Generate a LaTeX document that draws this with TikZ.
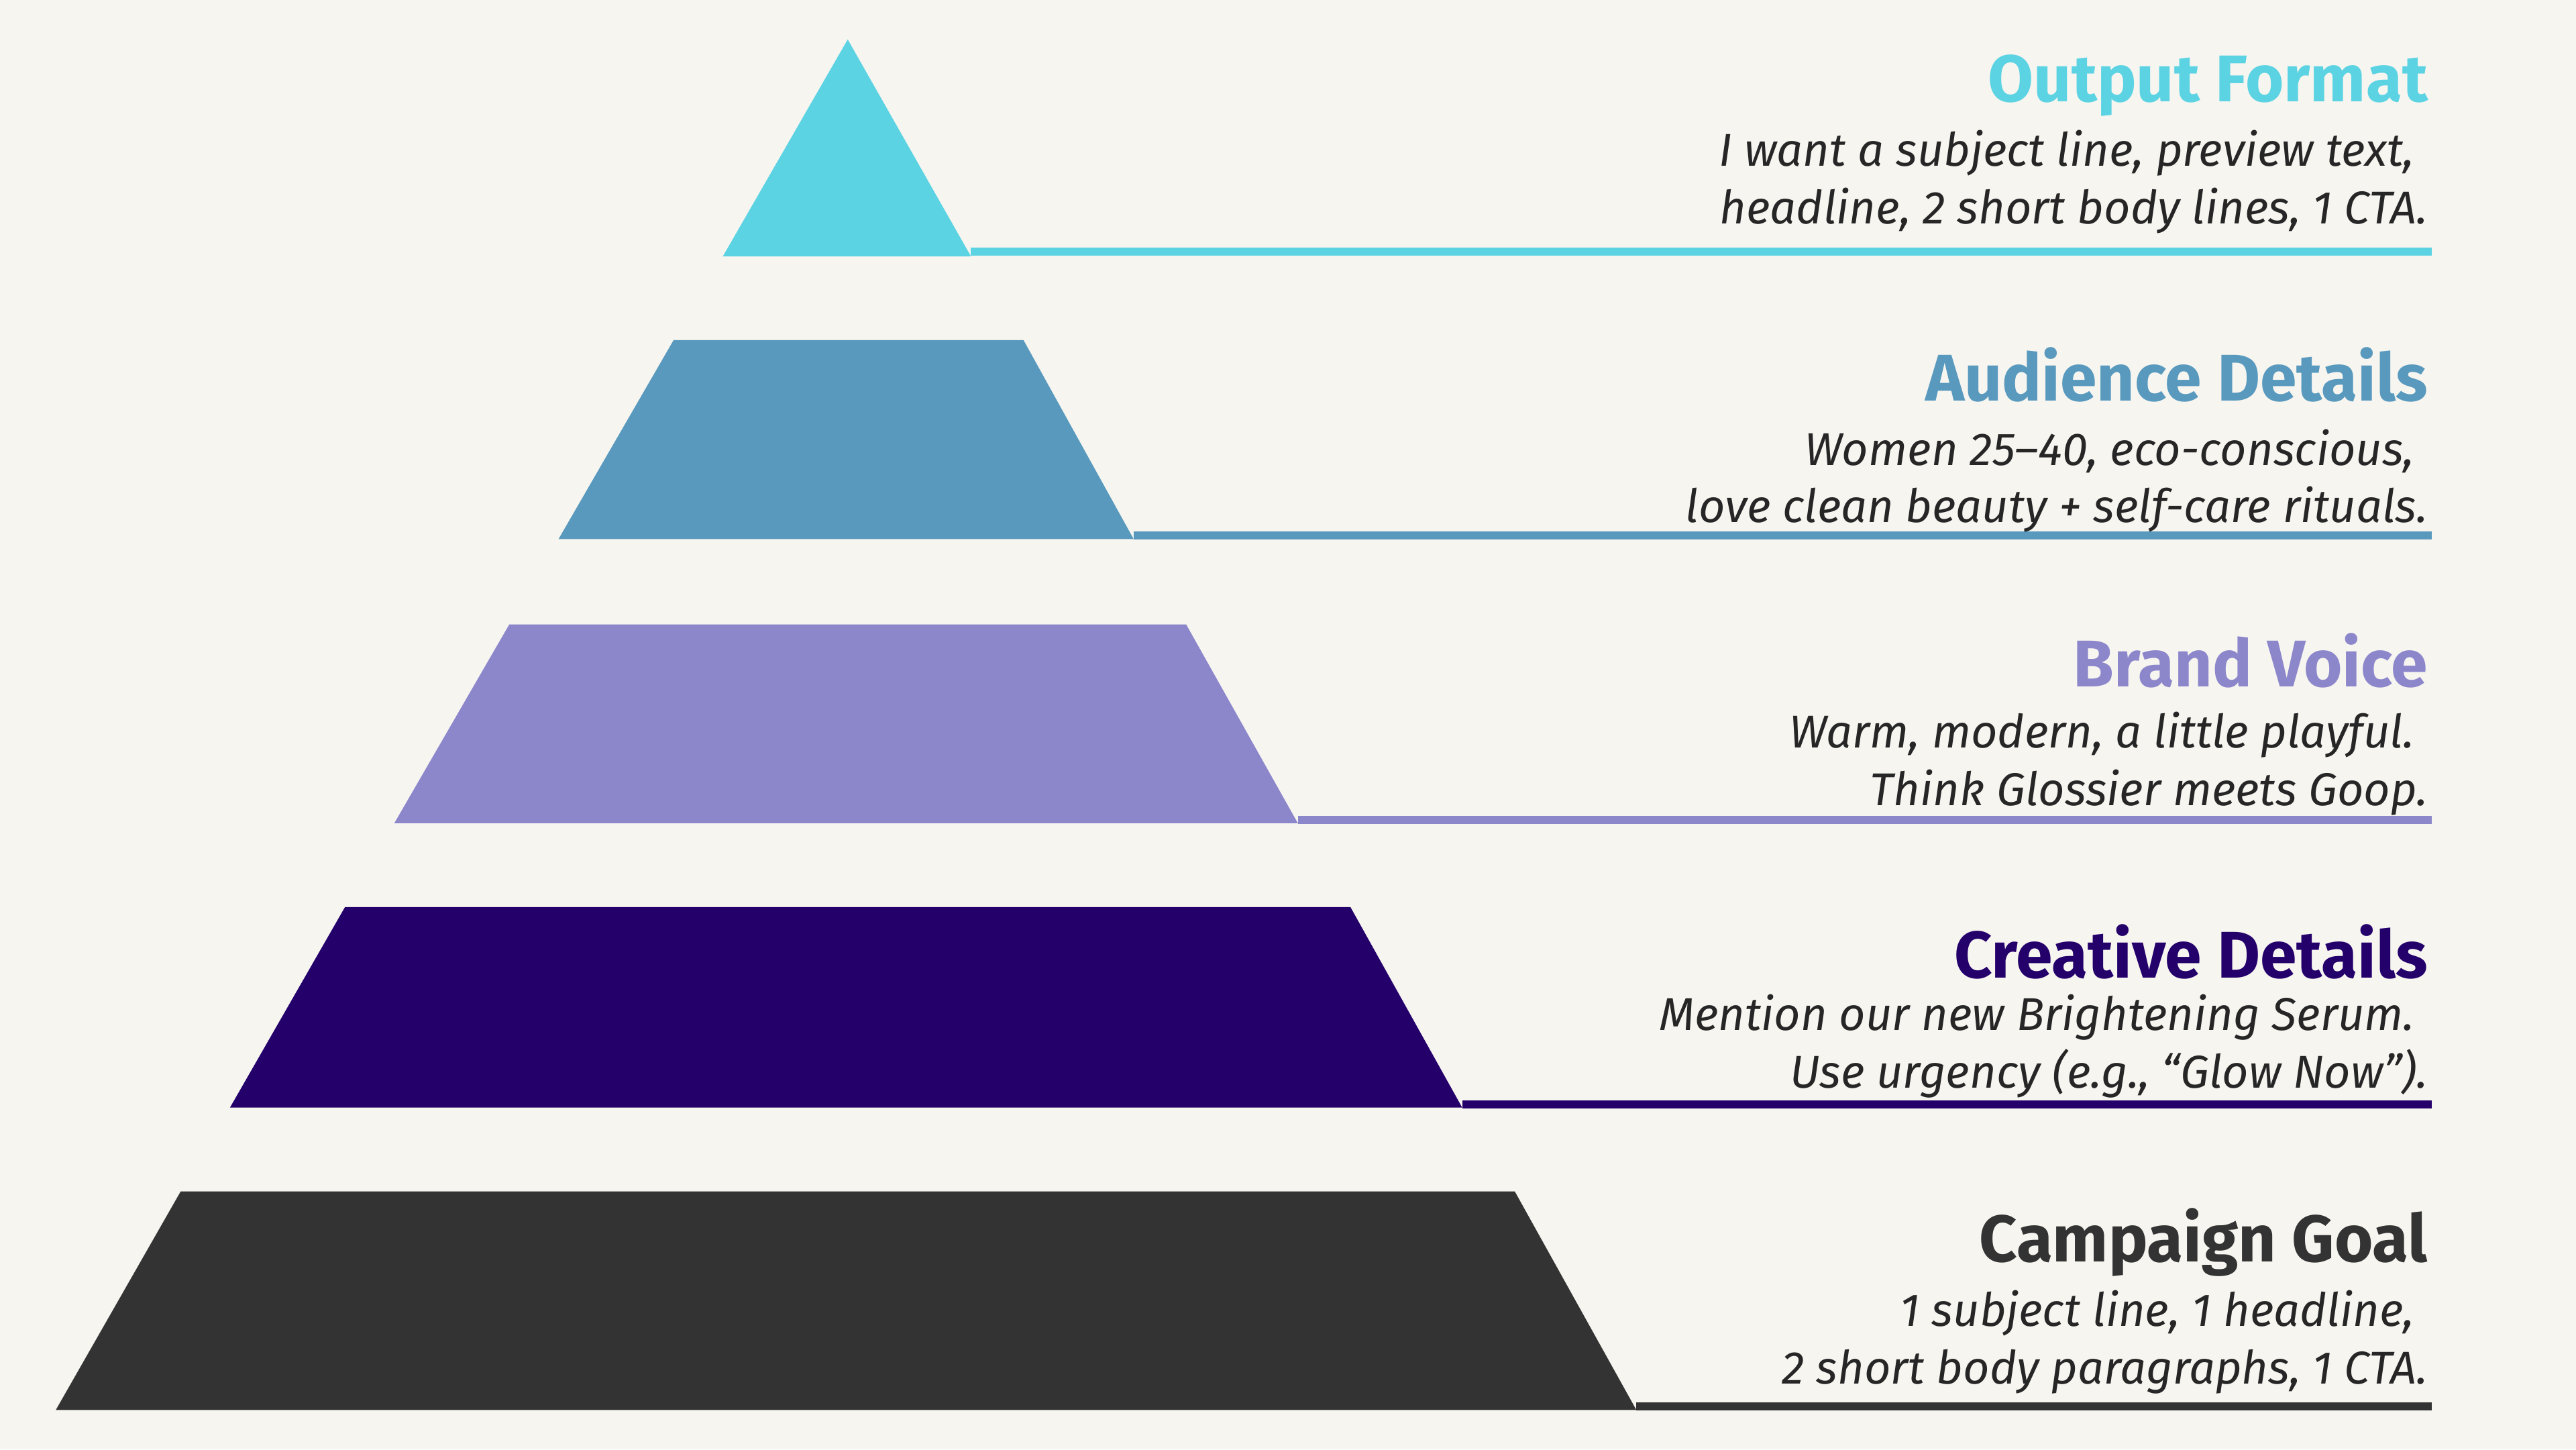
\documentclass[tikz,border=0pt]{standalone}
\usepackage{fontspec}
\setmainfont{Fira Sans}
\definecolor{bg}{HTML}{F6F5F0}
\definecolor{cA}{HTML}{5BD3E3}
\definecolor{cB}{HTML}{5899BD}
\definecolor{cC}{HTML}{8C86CB}
\definecolor{cD}{HTML}{24006B}
\definecolor{cE}{HTML}{333333}
\begin{document}
\begin{tikzpicture}[x=0.02449cm,y=-0.02449cm,
  ttl/.style={anchor=base east,inner sep=0,font=\fontsize{28}{32}\selectfont\bfseries},
  bdy/.style={anchor=base east,inner sep=0,font=\fontsize{19.5}{24}\selectfont\itshape,text=black!85},
  bar/.style={line width=0.12cm}]
\fill[bg] (0,0) rectangle (1568,882);
\useasboundingbox (0,0) rectangle (1568,882);
\fill[cA] (516,24) -- (591,156) -- (440,156) -- cycle;
\draw[bar,cA] (591,153) -- (1480,153);
\fill[cB] (410,207) -- (623,207) -- (690,328) -- (340,328) -- cycle;
\draw[bar,cB] (690,326) -- (1480,326);
\fill[cC] (310,380) -- (722,380) -- (790,501) -- (240,501) -- cycle;
\draw[bar,cC] (790,499) -- (1480,499);
\fill[cD] (210,552) -- (822,552) -- (890,674) -- (140,674) -- cycle;
\draw[bar,cD] (890,672) -- (1480,672);
\fill[cE] (110,725) -- (922,725) -- (996,858) -- (34,858) -- cycle;
\draw[bar,cE] (996,856) -- (1480,856);
\node[ttl,text=cA] (t1) at (1478,62) {Output Format};
\node[bdy] (b1a) at (1470,101) {I want a subject line, preview text,};
\node[bdy] (b1b) at (1478,136) {headline, 2 short body lines, 1 CTA.};
\node[ttl,text=cB] (t2) at (1478,244) {Audience Details};
\node[bdy] (b2a) at (1470,283) {Women 25–40, eco-conscious,};
\node[bdy] (b2b) at (1478,318) {love clean beauty + self-care rituals.};
\node[ttl,text=cC] (t3) at (1478,418) {Brand Voice};
\node[bdy] (b3a) at (1470,455) {Warm, modern, a little playful.};
\node[bdy] (b3b) at (1478,490) {Think Glossier meets Goop.};
\node[ttl,text=cD] (t4) at (1478,595) {Creative Details};
\node[bdy] (b4a) at (1470,627) {Mention our new Brightening Serum.};
\node[bdy] (b4b) at (1478,662) {Use urgency (e.g., “Glow Now”).};
\node[ttl,text=cE] (t5) at (1478,768) {Campaign Goal};
\node[bdy] (b5a) at (1470,807) {1 subject line, 1 headline,};
\node[bdy] (b5b) at (1478,842) {2 short body paragraphs, 1 CTA.};
\end{tikzpicture}
\end{document}
